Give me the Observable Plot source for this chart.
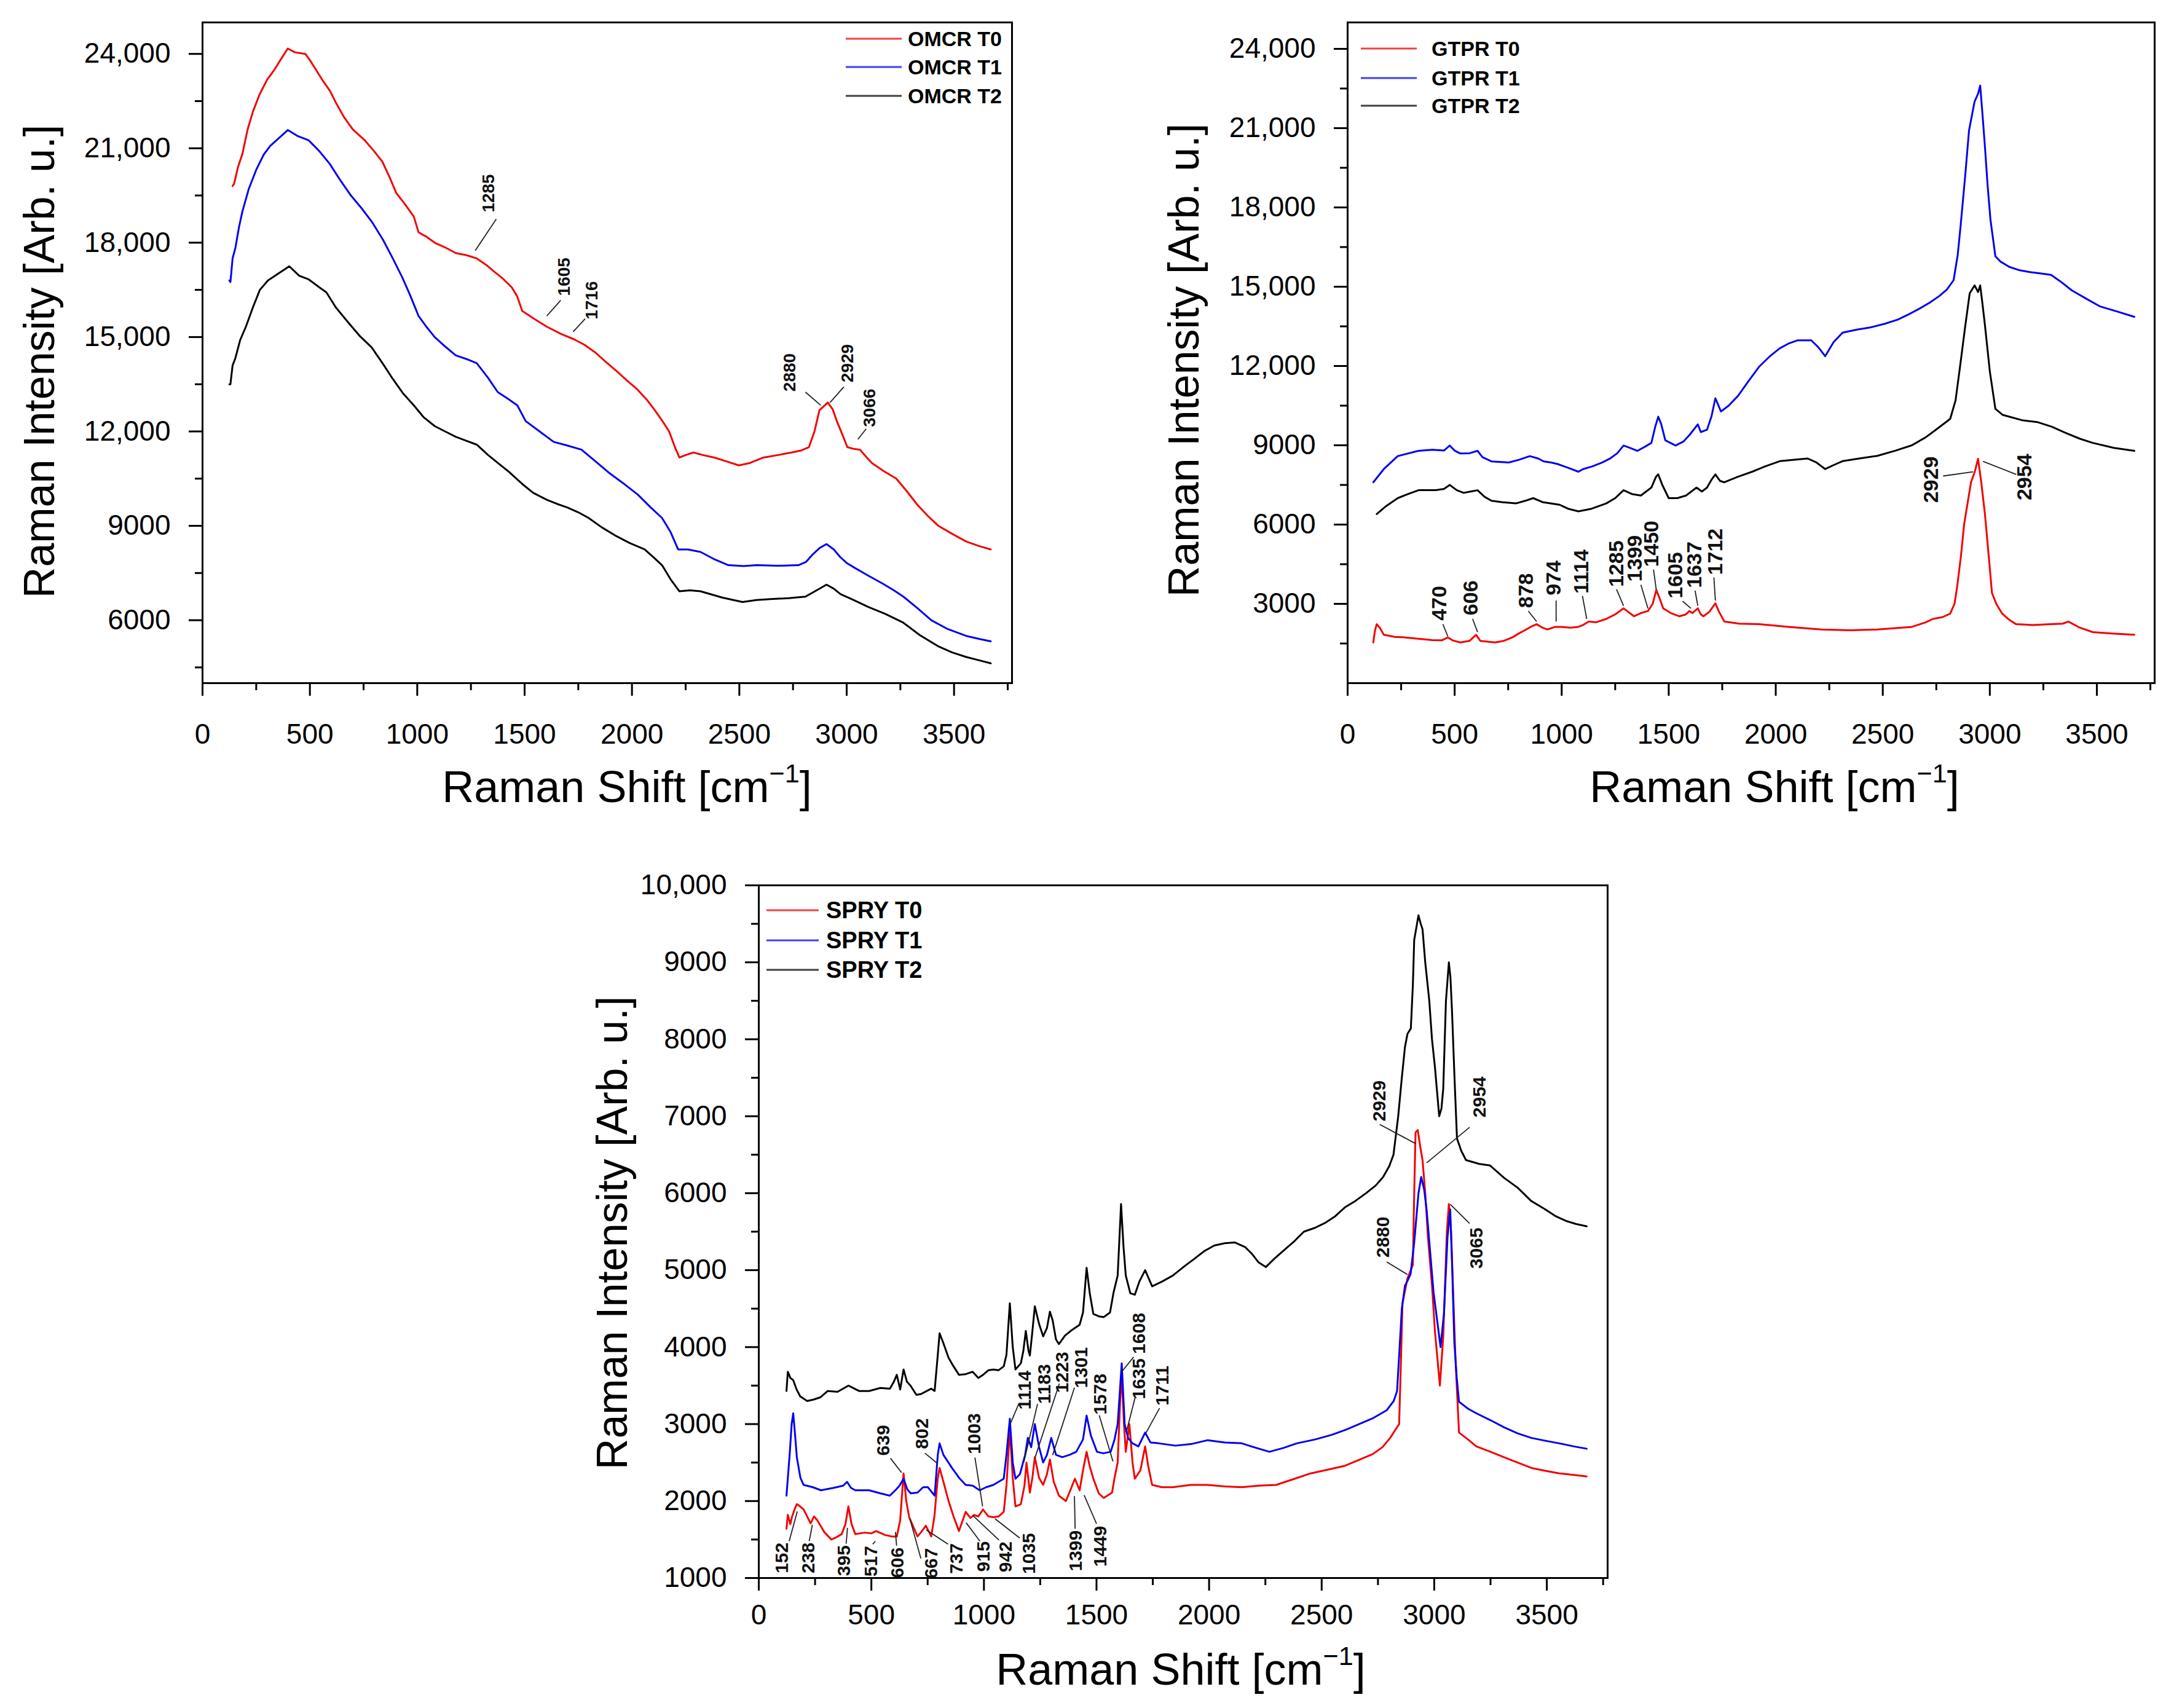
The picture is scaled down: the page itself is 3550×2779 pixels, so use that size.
<!DOCTYPE html>
<html>
<head>
<meta charset="utf-8">
<script src="https://cdn.jsdelivr.net/npm/d3@7"></script>
<script src="https://cdn.jsdelivr.net/npm/@observablehq/plot@0.6"></script>
<style>
  body { margin: 0; background: #fff; font-family: "Liberation Sans", Arial, sans-serif; }
  #page { position: relative; width: 3550px; height: 2779px; overflow: hidden; background: #fff; }
  .chart { position: absolute; }
  .ytitle { position: absolute; font-size: 70px; white-space: nowrap; line-height: 1; transform: translate(-50%, -50%) rotate(-90deg); }
  .xtitle { position: absolute; font-size: 72px; white-space: nowrap; line-height: 1; transform: translate(-50%, -50%); }
  .xtitle sup { font-size: 0.6em; line-height: 0; vertical-align: 0.75em; }
  .legrow { position: absolute; display: flex; align-items: center; white-space: nowrap; font-weight: bold; transform: translateY(-50%); }
  .legrow span.sw { display: inline-block; height: 3px; }
</style>
</head>
<body>
<div id="page">
  <div id="chart1" class="chart" style="left:0px;top:0px"></div>
  <div id="chart2" class="chart" style="left:1780px;top:0px"></div>
  <div id="chart3" class="chart" style="left:900px;top:1380px"></div>
</div>
<script>
// ---- data: [Raman shift cm-1, intensity] ----
const omcrT0 = [[140,19800],[147,19870],[165,20400],[186,20830],[210,21600],[235,22170],[265,22700],[300,23170],[335,23500],[365,23830],[397,24170],[430,24050],[479,24000],[500,23800],[528,23500],[560,23150],[593,22830],[625,22400],[658,22000],[700,21600],[756,21250],[800,20900],[837,20580],[870,20100],[902,19580],[940,19250],[984,18830],[1006,18330],[1040,18200],[1081,18000],[1130,17850],[1179,17670],[1230,17600],[1277,17500],[1320,17300],[1358,17080],[1400,16850],[1440,16580],[1465,16300],[1489,15830],[1540,15600],[1603,15330],[1670,15100],[1733,14920],[1780,14750],[1831,14500],[1880,14200],[1928,13920],[1980,13600],[2026,13330],[2070,13000],[2107,12670],[2140,12350],[2173,12000],[2200,11500],[2221,11170],[2250,11250],[2287,11330],[2330,11250],[2384,11170],[2440,11050],[2498,10920],[2550,11000],[2612,11170],[2680,11250],[2743,11330],[2790,11400],[2824,11500],[2850,12000],[2873,12670],[2912,12920],[2935,12700],[2954,12330],[2980,11900],[3003,11500],[3030,11450],[3062,11420],[3090,11200],[3117,11000],[3170,10750],[3231,10500],[3280,10100],[3329,9670],[3380,9300],[3427,9000],[3490,8750],[3557,8500],[3620,8350],[3671,8250]];
const omcrT1 = [[125,16800],[130,16750],[140,17500],[153,17830],[170,18500],[186,19000],[215,19700],[251,20330],[285,20800],[316,21080],[360,21350],[397,21580],[440,21400],[495,21250],[545,20900],[593,20500],[640,20000],[691,19500],[740,19100],[788,18670],[840,18100],[886,17500],[930,16900],[967,16330],[1006,15670],[1040,15350],[1081,15000],[1130,14700],[1179,14420],[1230,14300],[1277,14170],[1330,13700],[1375,13250],[1420,13050],[1466,12830],[1505,12330],[1570,12000],[1635,11670],[1700,11550],[1765,11420],[1830,11050],[1896,10670],[1960,10350],[2026,10000],[2085,9600],[2140,9250],[2180,8800],[2215,8250],[2260,8250],[2319,8170],[2380,7950],[2449,7750],[2520,7720],[2580,7750],[2680,7730],[2775,7750],[2810,7850],[2840,8080],[2875,8300],[2906,8420],[2940,8250],[2971,8000],[3000,7820],[3036,7670],[3100,7420],[3166,7170],[3220,6950],[3264,6750],[3330,6380],[3394,6000],[3470,5720],[3557,5500],[3620,5400],[3671,5330]];
const omcrT2 = [[125,13500],[130,13500],[140,14100],[153,14330],[175,14900],[202,15330],[235,15950],[267,16500],[305,16800],[349,17000],[404,17250],[450,16950],[495,16830],[540,16600],[577,16420],[620,15950],[674,15500],[730,15050],[788,14670],[840,14150],[886,13670],[935,13200],[984,12830],[1030,12450],[1081,12170],[1130,12000],[1179,11830],[1230,11700],[1277,11580],[1330,11250],[1375,11000],[1430,10700],[1489,10330],[1540,10050],[1603,9830],[1650,9700],[1700,9580],[1750,9430],[1798,9250],[1860,8950],[1928,8670],[1990,8450],[2059,8250],[2100,8000],[2140,7750],[2180,7300],[2221,6920],[2270,6950],[2319,6920],[2420,6720],[2515,6580],[2580,6640],[2645,6670],[2730,6700],[2808,6750],[2860,6950],[2906,7130],[2940,7000],[2971,6830],[3030,6650],[3101,6420],[3180,6200],[3264,5920],[3340,5530],[3427,5170],[3490,4980],[3557,4830],[3620,4720],[3671,4630]];

const gtprT0 = [[120,1540],[128,2000],[136,2230],[150,2100],[169,1830],[220,1750],[266,1730],[330,1680],[396,1630],[440,1620],[468,1730],[490,1620],[526,1540],[570,1600],[600,1830],[620,1600],[688,1540],[730,1600],[769,1730],[800,1880],[834,2030],[860,2150],[883,2230],[910,2100],[932,2030],[970,2130],[997,2130],[1040,2100],[1078,2130],[1100,2200],[1127,2330],[1160,2300],[1208,2430],[1250,2600],[1289,2830],[1310,2700],[1338,2530],[1370,2650],[1403,2730],[1425,3000],[1442,3520],[1458,3200],[1474,2830],[1510,2650],[1549,2530],[1580,2600],[1597,2730],[1610,2650],[1636,2830],[1650,2600],[1662,2530],[1690,2700],[1718,3020],[1735,2700],[1760,2330],[1830,2250],[1922,2230],[2060,2130],[2214,2030],[2350,2000],[2474,2030],[2560,2080],[2636,2130],[2700,2300],[2734,2430],[2780,2500],[2815,2630],[2835,3000],[2847,3620],[2865,4800],[2880,6010],[2900,7000],[2912,7600],[2930,8000],[2945,8490],[2960,7600],[2977,6410],[2995,4800],[3010,3420],[3030,3000],[3058,2630],[3090,2400],[3123,2230],[3200,2200],[3286,2230],[3340,2250],[3367,2330],[3420,2100],[3481,1930],[3570,1880],[3675,1830]];
const gtprT1 = [[120,7600],[169,8100],[234,8590],[331,8790],[396,8830],[450,8800],[477,8990],[500,8800],[526,8690],[570,8700],[607,8790],[630,8550],[672,8390],[753,8350],[800,8450],[851,8590],[890,8500],[916,8390],[950,8350],[981,8290],[1030,8150],[1078,8000],[1100,8100],[1143,8200],[1190,8350],[1224,8490],[1260,8700],[1289,8990],[1320,8900],[1354,8790],[1390,8950],[1419,9090],[1437,9700],[1451,10080],[1465,9800],[1484,9190],[1532,8990],[1570,9150],[1597,9390],[1636,9790],[1650,9500],[1679,9590],[1700,10100],[1718,10780],[1744,10280],[1780,10500],[1825,10880],[1870,11400],[1922,11970],[1970,12350],[2019,12670],[2060,12850],[2101,12970],[2166,12970],[2200,12700],[2231,12370],[2270,12900],[2312,13260],[2380,13380],[2442,13460],[2510,13600],[2571,13760],[2620,13950],[2669,14160],[2720,14400],[2766,14660],[2800,14900],[2831,15250],[2850,16200],[2864,17340],[2885,19200],[2903,20920],[2929,22010],[2945,22300],[2955,22610],[2965,21600],[2977,20320],[2990,18800],[3003,17540],[3026,16150],[3050,15950],[3091,15750],[3140,15620],[3188,15550],[3240,15500],[3286,15450],[3330,15200],[3383,14860],[3450,14550],[3513,14260],[3600,14050],[3675,13860]];
const gtprT2 = [[136,6400],[180,6700],[234,7000],[280,7150],[331,7300],[412,7300],[450,7350],[477,7500],[510,7300],[542,7200],[575,7250],[607,7300],[640,7050],[672,6900],[720,6850],[786,6800],[830,6900],[867,7000],[910,6850],[948,6800],[990,6750],[1030,6600],[1078,6500],[1140,6600],[1208,6800],[1250,7000],[1289,7300],[1330,7150],[1370,7100],[1419,7400],[1440,7800],[1451,7900],[1470,7500],[1500,7000],[1540,7000],[1581,7100],[1630,7400],[1655,7250],[1679,7400],[1700,7700],[1718,7900],[1740,7650],[1760,7600],[1820,7800],[1890,8000],[1950,8200],[2019,8400],[2080,8450],[2149,8500],[2190,8350],[2231,8100],[2270,8250],[2312,8400],[2390,8500],[2474,8600],[2560,8800],[2636,9000],[2700,9300],[2750,9600],[2815,10000],[2840,10700],[2864,12170],[2885,13500],[2906,14750],[2929,15050],[2945,14800],[2955,15050],[2965,14400],[2977,13560],[3000,11800],[3026,10380],[3060,10150],[3091,10080],[3150,9950],[3221,9880],[3290,9700],[3351,9480],[3420,9250],[3481,9090],[3580,8900],[3675,8790]];

const spryT0 = [[123,1640],[129,1820],[140,1700],[147,1790],[160,1900],[169,1960],[184,1930],[199,1890],[215,1800],[230,1710],[245,1800],[260,1750],[290,1600],[322,1500],[345,1530],[368,1570],[385,1700],[398,1930],[412,1700],[429,1570],[470,1590],[500,1580],[521,1610],[560,1560],[590,1540],[613,1540],[628,1750],[643,2360],[655,2000],[668,1790],[690,1640],[705,1540],[722,1600],[742,1680],[766,1540],[780,1800],[795,2300],[803,2430],[820,2250],[843,2000],[865,1800],[889,1610],[919,1860],[940,1780],[956,1820],[975,1800],[996,1890],[1020,1800],[1042,1790],[1065,1800],[1088,1860],[1100,2200],[1115,2930],[1128,2300],[1140,1930],[1164,1960],[1180,2200],[1189,2500],[1204,2110],[1215,2300],[1226,2570],[1245,2300],[1263,2210],[1280,2350],[1293,2540],[1310,2250],[1333,2070],[1364,2000],[1385,2150],[1404,2290],[1425,2140],[1440,2400],[1456,2640],[1470,2450],[1486,2290],[1510,2100],[1532,2040],[1569,2110],[1580,2300],[1594,2500],[1605,3300],[1612,3640],[1622,3000],[1630,2640],[1646,3000],[1660,2500],[1670,2290],[1695,2400],[1716,2710],[1730,2450],[1747,2210],[1790,2180],[1839,2180],[1920,2210],[1992,2210],[2070,2190],[2145,2180],[2220,2200],[2298,2210],[2380,2290],[2452,2360],[2530,2410],[2605,2460],[2670,2540],[2727,2610],[2770,2700],[2804,2820],[2844,3000],[2852,3800],[2859,4570],[2881,4890],[2905,5070],[2911,6000],[2917,6790],[2927,6820],[2938,6600],[2948,6430],[2960,6000],[2972,5430],[2990,4800],[3003,4210],[3025,3500],[3040,4140],[3056,5500],[3065,5860],[3075,5500],[3083,4790],[3095,3800],[3110,2890],[3150,2800],[3187,2710],[3250,2640],[3309,2570],[3370,2500],[3432,2430],[3500,2390],[3555,2360],[3620,2340],[3677,2320]];
const spryT1 = [[123,2070],[138,2640],[146,3000],[153,3140],[160,2900],[169,2570],[185,2300],[199,2210],[240,2180],[276,2140],[330,2170],[375,2200],[392,2250],[410,2170],[429,2140],[490,2140],[540,2100],[582,2070],[610,2150],[625,2200],[643,2290],[660,2150],[675,2100],[705,2110],[730,2180],[751,2180],[781,2070],[795,2600],[803,2750],[820,2600],[858,2430],[890,2300],[919,2210],[950,2200],[981,2140],[1010,2180],[1042,2210],[1088,2290],[1100,2600],[1115,3070],[1128,2500],[1140,2290],[1160,2350],[1183,2600],[1195,2820],[1210,2700],[1226,3000],[1245,2700],[1263,2500],[1280,2600],[1299,2820],[1320,2600],[1348,2570],[1380,2600],[1410,2640],[1440,2800],[1456,3110],[1475,2850],[1502,2640],[1530,2620],[1563,2640],[1580,2800],[1594,3000],[1612,3790],[1625,3000],[1640,2820],[1660,2750],[1686,2710],[1716,2890],[1740,2760],[1777,2750],[1850,2720],[1920,2740],[1992,2790],[2070,2760],[2145,2750],[2210,2690],[2268,2640],[2330,2690],[2390,2750],[2470,2800],[2544,2860],[2610,2930],[2666,3000],[2730,3080],[2789,3180],[2820,3300],[2835,3430],[2856,4500],[2870,4800],[2881,4860],[2895,4950],[2911,5360],[2930,6000],[2942,6210],[2955,6050],[2966,5790],[2980,5300],[2997,4710],[3015,4300],[3028,4000],[3043,4430],[3059,5430],[3071,5790],[3080,5000],[3089,4070],[3100,3600],[3110,3290],[3150,3200],[3187,3140],[3250,3050],[3309,2960],[3370,2880],[3432,2820],[3500,2780],[3555,2750],[3620,2710],[3677,2680]];
const spryT2 = [[123,3430],[129,3680],[140,3600],[153,3570],[168,3450],[184,3360],[215,3300],[245,3320],[275,3350],[306,3430],[350,3420],[398,3500],[445,3430],[490,3430],[540,3470],[582,3460],[600,3550],[613,3640],[628,3450],[643,3710],[658,3550],[674,3500],[700,3380],[720,3390],[766,3460],[781,3430],[795,3900],[803,4180],[820,4050],[843,3860],[865,3750],[889,3640],[920,3650],[950,3680],[975,3600],[996,3640],[1020,3700],[1042,3710],[1065,3700],[1088,3750],[1100,3900],[1115,4570],[1128,4000],[1140,3710],[1164,3790],[1175,3950],[1186,4210],[1198,3950],[1204,3890],[1215,4200],[1226,4530],[1245,4300],[1263,4140],[1280,4250],[1293,4460],[1305,4350],[1320,4100],[1333,4040],[1360,4150],[1385,4210],[1425,4290],[1440,4450],[1456,5030],[1470,4700],[1486,4430],[1510,4400],[1532,4390],[1560,4450],[1575,4700],[1594,4930],[1609,5860],[1620,5300],[1630,4930],[1650,4700],[1670,4680],[1690,4850],[1716,5000],[1747,4790],[1790,4850],[1839,4930],[1890,5050],[1931,5140],[1980,5250],[2023,5320],[2070,5350],[2115,5360],[2160,5300],[2191,5210],[2220,5100],[2252,5040],[2290,5150],[2329,5250],[2380,5380],[2421,5500],[2470,5550],[2513,5610],[2560,5700],[2605,5820],[2650,5900],[2697,6000],[2740,6100],[2773,6210],[2800,6350],[2819,6500],[2840,7000],[2856,7500],[2870,7900],[2881,8070],[2896,8140],[2905,8700],[2911,9290],[2930,9610],[2940,9500],[2948,9430],[2960,9000],[2978,8500],[2990,8000],[3003,7640],[3022,7000],[3032,7100],[3040,7360],[3052,8500],[3065,9000],[3072,8800],[3079,8360],[3090,7500],[3101,6710],[3120,6550],[3141,6430],[3200,6380],[3248,6360],[3310,6200],[3371,6070],[3430,5900],[3493,5790],[3540,5700],[3585,5640],[3630,5600],[3677,5570]];

// peak labels: [text, label x, label y, leader x1, y1, x2, y2] in data units
const omcrPeaks = [
  ["1285",1332,19570,1368,18750,1270,17750],
  ["1605",1684,16917,1668,16167,1603,15667],
  ["1716",1814,16167,1782,15583,1726,15167],
  ["2880",2736,13875,2808,13250,2879,12833],
  ["2929",3003,14167,2987,13417,2922,12917],
  ["3066",3107,12750,3091,12083,3052,11750]
];
const gtprPeaks = [
  ["470",429,3025,445,2230,468,1773],
  ["606",575,3225,584,2430,607,1932],
  ["878",834,3503,844,2728,883,2330],
  ["974",964,3980,974,3125,974,2330],
  ["1114",1094,4219,1097,3300,1117,2430],
  ["1285",1256,4517,1256,3550,1289,2926],
  ["1399",1344,4716,1370,3720,1403,2827],
  ["1450",1419,5272,1429,4300,1442,3523],
  ["1605",1532,4080,1565,3100,1604,2827],
  ["1637",1620,4477,1623,3500,1636,2926],
  ["1712",1718,4974,1711,4000,1718,3125],
  ["2929",2727,7698,2782,7837,2922,7996],
  ["2954",3162,7797,3123,7897,2968,8394]
];
const spryPeaks = [
  ["152",104,1261,135,1480,171,1864],
  ["238",220,1261,224,1480,238,1691],
  ["395",378,1226,388,1445,394,1652],
  ["517",500,1218,506,1440,518,1479],
  ["606",616,1199,612,1420,607,1598],
  ["667",768,1191,720,1253,671,1771],
  ["737",878,1253,841,1439,744,1625],
  ["915",1000,1279,982,1479,921,1718],
  ["942",1098,1274,1067,1492,951,1811],
  ["1035",1201,1319,1159,1519,1049,1771],
  ["1399",1409,1354,1405,1640,1402,2064],
  ["1449",1518,1412,1500,1705,1445,2077],
  ["639",555,2790,585,2556,634,2370],
  ["802",726,2875,738,2622,793,2489],
  ["1003",957,2875,960,2564,994,1931],
  ["1114",1183,3441,1155,3266,1116,2995],
  ["1183",1268,3521,1238,3261,1177,2503],
  ["1223",1348,3673,1335,3527,1226,2556],
  ["1301",1433,3734,1402,3473,1305,2596],
  ["1578",1518,3388,1512,3114,1573,2516],
  ["1608",1689,4178,1665,3872,1610,3673],
  ["1635",1689,3588,1671,3340,1634,2915],
  ["1711",1793,3500,1780,3207,1720,2888],
  ["2929",2758,7200,2758,6893,2918,6643],
  ["2954",3203,7250,3157,6857,2966,6393],
  ["2880",2773,5429,2789,5107,2881,4943],
  ["3065",3187,5286,3157,5607,3071,5857]
];

const xMajor = d3.range(0, 3501, 500);
const xMinor = d3.range(250, 3751, 500);
const omcrYMajor = d3.range(6000, 24001, 3000);
const omcrYMinor = d3.range(4500, 22501, 3000);
const gtprYMajor = d3.range(3000, 24001, 3000);
const gtprYMinor = d3.range(1500, 22501, 3000);
const spryYMajor = d3.range(1000, 10001, 1000);
const spryYMinor = d3.range(1500, 9501, 1000);

const colors = ["#f20000", "#0000f0", "#000000"];
const fmt = d => d >= 10000 ? d3.format(",")(d) : String(d);

function makeChart(o) {
  const marks = [
    Plot.frame({stroke: "black", strokeWidth: 3}),
    Plot.axisX(xMajor, {tickSize: 21, tickPadding: o.xPad, strokeWidth: 3, fontSize: 46, tickFormat: d => String(d)}),
    Plot.axisX(xMinor, {tickSize: 12, strokeWidth: 3, tickFormat: () => ""}),
    Plot.axisY(o.yMajor, {tickSize: 22, tickPadding: 30, strokeWidth: 3, fontSize: 46, tickFormat: fmt}),
    Plot.axisY(o.yMinor, {tickSize: 12, strokeWidth: 3, tickFormat: () => ""})
  ];
  o.series.forEach((s, i) => {
    marks.push(Plot.line(s, {x: d => d[0], y: d => d[1], stroke: colors[i], strokeWidth: 3}));
  });
  marks.push(Plot.link(o.peaks, {x1: d => d[3], y1: d => d[4], x2: d => d[5], y2: d => d[6], stroke: "#222", strokeWidth: 1.8}));
  marks.push(Plot.text(o.peaks, {x: d => d[1], y: d => d[2], text: d => d[0], rotate: -90, fontSize: o.noteSize, fontWeight: "bold", fill: "#111"}));

  const chart = Plot.plot({
    width: o.width,
    height: o.height,
    marginLeft: o.ml, marginRight: o.mr, marginTop: o.mt, marginBottom: o.mb,
    x: {domain: [0, 3770], label: null},
    y: {domain: o.yDomain, label: null},
    style: {fontFamily: "'Liberation Sans', Arial, sans-serif", fontSize: "46px", color: "black", background: "transparent", overflow: "visible"},
    marks
  });
  document.getElementById(o.id).append(chart);
}

makeChart({id: "chart1", width: 1700, height: 1340, ml: 329, mr: 54, mt: 36, mb: 229, xPad: 45,
  yDomain: [4000, 25000], yMajor: omcrYMajor, yMinor: omcrYMinor,
  series: [omcrT0, omcrT1, omcrT2], peaks: omcrPeaks, noteSize: 28});
makeChart({id: "chart2", width: 1770, height: 1340, ml: 412, mr: 45, mt: 36, mb: 229, xPad: 45,
  yDomain: [0, 25000], yMajor: gtprYMajor, yMinor: gtprYMinor,
  series: [gtprT0, gtprT1, gtprT2], peaks: gtprPeaks, noteSize: 34});
makeChart({id: "chart3", width: 1750, height: 1399, ml: 334, mr: 35, mt: 60, mb: 212, xPad: 22,
  yDomain: [1000, 10000], yMajor: spryYMajor, yMinor: spryYMinor,
  series: [spryT0, spryT1, spryT2], peaks: spryPeaks, noteSize: 30});

// axis titles and legends as page text
const page = document.getElementById("page");
function addText(cls, html, left, top) {
  const el = document.createElement("div");
  el.className = cls;
  el.innerHTML = html;
  el.style.left = left + "px";
  el.style.top = top + "px";
  page.append(el);
}
const yTitle = "Raman Intensity [Arb. u.]";
const xTitle = "Raman Shift [cm<sup>−1</sup>]";
addText("ytitle", yTitle, 64, 588);
addText("ytitle", yTitle, 1926, 586);
addText("ytitle", yTitle, 996, 2006);
addText("xtitle", xTitle, 1020, 1280);
addText("xtitle", xTitle, 2887, 1280);
addText("xtitle", xTitle, 1921, 2716);

function addLegend(names, left, rows, lineW, gap, size) {
  names.forEach((n, i) => {
    const row = document.createElement("div");
    row.className = "legrow";
    row.style.left = left + "px";
    row.style.top = rows[i] + "px";
    row.style.fontSize = size + "px";
    row.innerHTML = `<span class="sw" style="width:${lineW}px;background:${colors[i]};opacity:0.75;margin-right:${gap}px"></span><span>${n}</span>`;
    page.append(row);
  });
}
addLegend(["OMCR T0", "OMCR T1", "OMCR T2"], 1376, [63, 109, 156], 91, 10, 34);
addLegend(["GTPR T0", "GTPR T1", "GTPR T2"], 2214, [79, 127, 172], 91, 24, 34);
addLegend(["SPRY T0", "SPRY T1", "SPRY T2"], 1247, [1481, 1530, 1578], 85, 12, 38);
</script>
</body>
</html>
